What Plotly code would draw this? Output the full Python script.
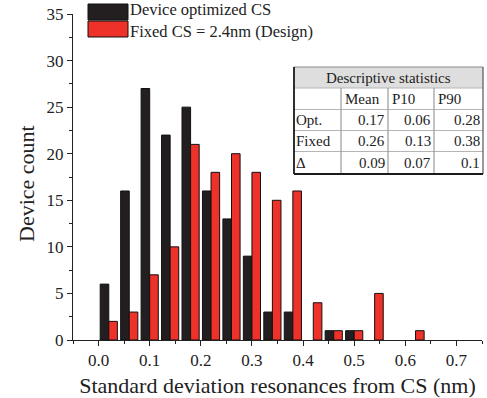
import plotly.graph_objects as go

# Histogram bins (centres, nm) and device counts per bin
bin_centers = [0.02, 0.06, 0.10, 0.14, 0.18, 0.22, 0.26, 0.30,
               0.34, 0.38, 0.42, 0.46, 0.50, 0.54, 0.58, 0.62]
optimized_counts = [6, 16, 27, 22, 25, 16, 13, 9, 3, 3, 0, 1, 1, 0, 0, 0]
fixed_counts = [2, 3, 7, 10, 21, 18, 20, 18, 15, 16, 4, 1, 1, 5, 0, 1]

series_names = ["Device optimized CS", "Fixed CS = 2.4nm (Design)"]
series_colors = ["#231f20", "#ee3129"]

# Descriptive statistics table
stat_title = "Descriptive statistics"
stat_cols = ["Mean", "P10", "P90"]
stat_rows = ["Opt.", "Fixed", "Δ"]
stat_values = [
    ["0.17", "0.06", "0.28"],
    ["0.26", "0.13", "0.38"],
    ["0.09", "0.07", "0.1"],
]

x_ticks = [0.0, 0.1, 0.2, 0.3, 0.4, 0.5, 0.6, 0.7]
y_ticks = [0, 5, 10, 15, 20, 25, 30, 35]

FONT = "Liberation Serif, Times New Roman, serif"
W, H = 487, 398
L, R, T, B = 73, 5, 14, 58
PW, PH = W - L - R, H - T - B


def px(x):
    return (x - L) / PW


def py(y):
    return (H - B - y) / PH


fig = go.Figure()
for name, counts, color in zip(series_names, [optimized_counts, fixed_counts], series_colors):
    # empty bins are left undrawn so no outline shows on the baseline
    fig.add_trace(go.Bar(
        x=bin_centers, y=[c if c > 0 else None for c in counts], name=name,
        marker=dict(color=color, line=dict(color="#111111", width=1)),
        showlegend=False,
    ))

shapes = []
annotations = []

# Legend swatches and labels (labels meet at the boundary between swatches)
for i, (name, color) in enumerate(zip(series_names, series_colors)):
    y0 = 4 + i * 17
    shapes.append(dict(type="rect", xref="paper", yref="paper",
                       x0=px(88), x1=px(128), y0=py(y0), y1=py(y0 + 16),
                       fillcolor=color, line=dict(color="#111111", width=1)))
    annotations.append(dict(xref="paper", yref="paper", x=px(129), y=py(20.5),
                            xanchor="left", yanchor="bottom" if i == 0 else "top",
                            showarrow=False, text=name, borderpad=0,
                            font=dict(family=FONT, size=16.5, color="#222")))

# Table geometry
col_edges = [294, 341, 388, 434, 483]
row_edges = [67, 88, 109.5, 130.5, 151.5, 174]
tx0, tx1 = col_edges[0], col_edges[-1]
ty0, ty1 = row_edges[0], row_edges[-1]

shapes.append(dict(type="rect", xref="paper", yref="paper",
                   x0=px(tx0), x1=px(tx1), y0=py(ty0), y1=py(ty1),
                   fillcolor="white", line=dict(width=0), layer="above"))
shapes.append(dict(type="rect", xref="paper", yref="paper",
                   x0=px(tx0), x1=px(tx1), y0=py(row_edges[0]), y1=py(row_edges[1]),
                   fillcolor="#dedede", line=dict(width=0), layer="above"))
# inner horizontal lines
for yy in row_edges[1:-1]:
    shapes.append(dict(type="line", xref="paper", yref="paper",
                       x0=px(tx0), x1=px(tx1), y0=py(yy), y1=py(yy),
                       line=dict(color="#b5b5b5", width=1.2), layer="above"))
# inner vertical lines (below the header)
for xx in col_edges[1:-1]:
    shapes.append(dict(type="line", xref="paper", yref="paper",
                       x0=px(xx), x1=px(xx), y0=py(row_edges[1]), y1=py(ty1),
                       line=dict(color="#9a9a9a", width=1.2), layer="above"))
# outer border
shapes.append(dict(type="line", xref="paper", yref="paper",
                   x0=px(tx0), x1=px(tx1), y0=py(ty0), y1=py(ty0),
                   line=dict(color="#8a8a8a", width=1.2), layer="above"))
shapes.append(dict(type="line", xref="paper", yref="paper",
                   x0=px(tx1), x1=px(tx1), y0=py(ty0), y1=py(ty1),
                   line=dict(color="#555555", width=1.2), layer="above"))
shapes.append(dict(type="line", xref="paper", yref="paper",
                   x0=px(tx0), x1=px(tx0), y0=py(ty0), y1=py(ty1),
                   line=dict(color="#1a1a1a", width=1.8), layer="above"))
shapes.append(dict(type="line", xref="paper", yref="paper",
                   x0=px(tx0), x1=px(tx1), y0=py(ty1), y1=py(ty1),
                   line=dict(color="#1a1a1a", width=1.8), layer="above"))

tfont = dict(family=FONT, size=15, color="#222")
annotations.append(dict(xref="paper", yref="paper", x=px((tx0 + tx1) / 2),
                        y=py((row_edges[0] + row_edges[1]) / 2),
                        xanchor="center", yanchor="middle", showarrow=False,
                        text=stat_title, font=tfont))
for j, c in enumerate(stat_cols):
    annotations.append(dict(xref="paper", yref="paper", x=px(col_edges[j + 1] + 2),
                            y=py((row_edges[1] + row_edges[2]) / 2),
                            xanchor="left", yanchor="middle", showarrow=False,
                            text=c, font=tfont))
for i, rname in enumerate(stat_rows):
    yc = py((row_edges[i + 2] + row_edges[i + 3]) / 2)
    annotations.append(dict(xref="paper", yref="paper", x=px(col_edges[0]),
                            y=yc, xanchor="left", yanchor="middle", showarrow=False,
                            text=rname, font=tfont))
    for j, v in enumerate(stat_values[i]):
        annotations.append(dict(xref="paper", yref="paper", x=px(col_edges[j + 2] - 1),
                                y=yc, xanchor="right", yanchor="middle", showarrow=False,
                                text=v, font=tfont))

# y-axis title
annotations.append(dict(xref="paper", yref="paper", x=px(26), y=py(184),
                        xanchor="center", yanchor="middle", showarrow=False,
                        textangle=-90, text="Device count",
                        font=dict(family=FONT, size=22, color="#222")))

fig.update_layout(
    width=W, height=H,
    margin=dict(l=L, r=R, t=T, b=B),
    paper_bgcolor="white", plot_bgcolor="white",
    barmode="group", bargap=0.16, bargroupgap=0,
    font=dict(family=FONT, size=17, color="#222"),
    shapes=shapes, annotations=annotations,
    xaxis=dict(
        range=[-0.05, 0.75], tickvals=x_ticks, tickformat=".1f",
        ticks="outside", ticklen=5, tickwidth=1, tickcolor="#222",
        showline=True, linecolor="#222", linewidth=1,
        showgrid=False, zeroline=False,
        minor=dict(dtick=0.05, tick0=0, ticks="outside", ticklen=3, tickcolor="#222"),
        title=dict(text="Standard deviation resonances from CS (nm)",
                   font=dict(family=FONT, size=22, color="#222"), standoff=8),
        tickfont=dict(family=FONT, size=17),
    ),
    yaxis=dict(
        range=[0, 35], tickvals=y_ticks,
        ticks="outside", ticklen=5, tickwidth=1, tickcolor="#222",
        showline=True, linecolor="#222", linewidth=1,
        showgrid=False, zeroline=False,
        minor=dict(dtick=2.5, tick0=0, ticks="outside", ticklen=3, tickcolor="#222"),
        tickfont=dict(family=FONT, size=17),
    ),
)

fig.write_html("out.html")
